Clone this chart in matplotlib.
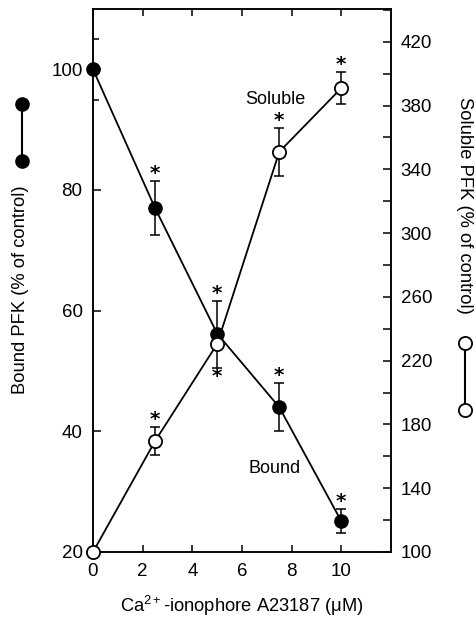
import matplotlib
matplotlib.use("Agg")
import matplotlib.pyplot as plt
from matplotlib.lines import Line2D

plt.rcParams['font.family'] = ['Liberation Sans', 'DejaVu Sans']
plt.rcParams['mathtext.fontset'] = 'custom'
plt.rcParams['mathtext.rm'] = 'Liberation Sans'
plt.rcParams['mathtext.it'] = 'Liberation Sans:italic'
plt.rcParams['mathtext.bf'] = 'Liberation Sans:bold'

# data
conc = [0, 2.5, 5, 7.5, 10]
bound = [100, 77, 56.2, 44.0, 25.1]
bound_err_up = [0, 4.5, 5.4, 4.0, 2.0]
bound_err_dn = [0, 4.5, 0, 4.0, 2.0]
bound_star = [False, True, True, True, True]
soluble = [100, 169.6, 230.5, 351, 391]
sol_err_up = [0, 8.5, 0, 15, 10]
sol_err_dn = [0, 8.5, 15, 15, 10]
sol_star = [False, True, True, True, True]
sol_star_below = [False, False, True, False, False]
xticks = [0, 2, 4, 6, 8, 10]
left_ticks = [20, 40, 60, 80, 100]
right_ticks = [100, 140, 180, 220, 260, 300, 340, 380, 420]

W, H = 476, 621
fig = plt.figure(figsize=(W / 100, H / 100), dpi=100)
ax = fig.add_axes([93 / W, 1 - 552 / H, (391 - 93) / W, (552 - 9) / H])
ax2 = ax.twinx()

lw = 1.3
for a in (ax, ax2):
    for s in a.spines.values():
        s.set_linewidth(1.1)

ax.set_xlim(0, 12)
ax.set_ylim(20, 110)
ax2.set_ylim(100, 440.6)

star_kw = dict(ha='center', va='center', fontsize=14.5, fontweight='bold',
               family='DejaVu Sans', textcoords='offset points')

# bound (left axis)
ax.errorbar(conc, bound, yerr=[bound_err_dn, bound_err_up], fmt='none',
            ecolor='black', elinewidth=1.1, capsize=3.5, capthick=1.1, zorder=3)
ax.plot(conc, bound, '-', color='black', lw=lw, marker='o', ms=9.5,
        mfc='black', mec='black', zorder=4, clip_on=False)
for x, y, e, s in zip(conc, bound, bound_err_up, bound_star):
    if s:
        ax.annotate('*', (x, y + e), xytext=(0, 5.5), **star_kw)

# soluble (right axis)
ax2.errorbar(conc, soluble, yerr=[sol_err_dn, sol_err_up], fmt='none',
             ecolor='black', elinewidth=1.1, capsize=3.5, capthick=1.1, zorder=3)
ax2.plot(conc, soluble, '-', color='black', lw=lw, marker='o', ms=9.5,
         mfc='white', mec='black', mew=1.3, zorder=4, clip_on=False)
for x, y, eu, ed, s, b in zip(conc, soluble, sol_err_up, sol_err_dn, sol_star, sol_star_below):
    if s:
        if b:
            ax2.annotate('*', (x, y - ed), xytext=(0, -6.5), **star_kw)
        else:
            ax2.annotate('*', (x, y + eu), xytext=(0, 5.5), **star_kw)

ax.text(7.36, 95, 'Soluble', ha='center', va='center', fontsize=13)
ax.text(7.3, 33.8, 'Bound', ha='center', va='center', fontsize=13)

# ticks
ax.set_xticks(xticks)
ax.set_xticklabels([str(t) for t in xticks])
ax.set_yticks(left_ticks)
ax.set_yticks([95, 105], minor=True)
ax.tick_params(axis='x', which='both', direction='in', top=True, length=5,
               width=1.1, labelsize=13.5, pad=8)
ax.tick_params(axis='y', which='major', direction='in', length=6, width=1.1,
               labelsize=13.5, pad=7.5, right=False)
ax.tick_params(axis='y', which='minor', direction='in', length=4, width=1.1, right=False)
ax2.set_yticks(right_ticks)
ax2.set_yticks([120, 160, 200, 240, 280, 320, 360, 400, 440], minor=True)
ax2.tick_params(axis='y', which='both', direction='in', length=6, width=1.1,
                labelsize=13.5, pad=7)

# axis labels
fig.text(21 / W, 1 - 290 / H, 'Bound PFK (% of control)', rotation=90,
         ha='center', va='center', fontsize=13.2)
fig.text(465 / W, 1 - 205 / H, 'Soluble PFK (% of control)', rotation=-90,
         ha='center', va='center', fontsize=13.2)
fig.text(242 / W, 1 - 606 / H, 'Ca$^{2+}$-ionophore A23187 (μM)',
         ha='center', va='center', fontsize=13.2)

# side legend symbols
fig.add_artist(Line2D([22 / W, 22 / W], [1 - 104 / H, 1 - 161 / H], color='black',
                      lw=1.5, marker='o', ms=9.5, mfc='black', mec='black',
                      transform=fig.transFigure))
fig.add_artist(Line2D([465 / W, 465 / W], [1 - 343 / H, 1 - 410 / H], color='black',
                      lw=1.5, marker='o', ms=9.5, mfc='white', mec='black', mew=1.3,
                      transform=fig.transFigure))

fig.savefig('out.png', dpi=100)
